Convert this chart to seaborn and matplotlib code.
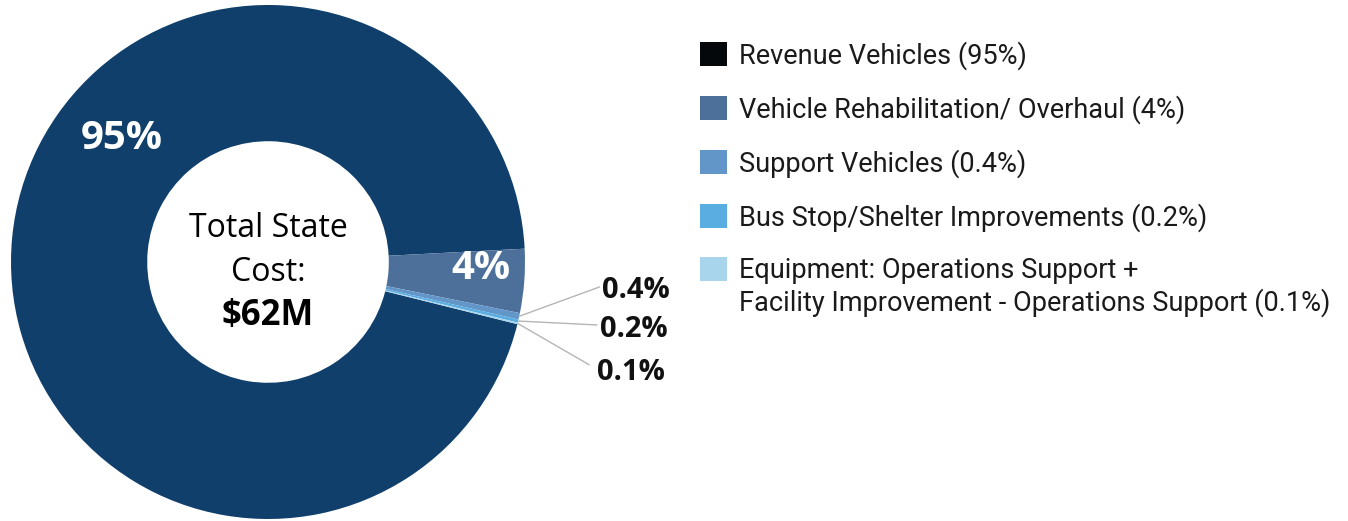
import numpy as np
import seaborn as sns
import matplotlib.pyplot as plt
from matplotlib.patches import Patch

# data
categories = ['Revenue Vehicles', 'Vehicle Rehabilitation/ Overhaul', 'Support Vehicles',
              'Bus Stop/Shelter Improvements',
              'Equipment: Operations Support +\nFacility Improvement - Operations Support']
shares = [95, 4, 0.4, 0.2, 0.1]
share_labels = ['95%', '4%', '0.4%', '0.2%', '0.1%']
slice_colors = ['#0f3f6a', '#4d709a', '#6296c8', '#5aade0', '#a8d4ec']
legend_colors = ['#05080a', '#4d709a', '#6296c8', '#5aade0', '#a8d4ec']

sns.set_theme(style='white')
plt.rcParams['font.family'] = ['Open Sans', 'DejaVu Sans']

fig = plt.figure(figsize=(13.48, 5.21), dpi=100)
# pie axes: centre ~ (268, 262) px, radius ~257 px
ax = fig.add_axes([(268 - 257) / 1348, (521 - 262 - 257) / 521, 514 / 1348, 514 / 521])

wedges, _ = ax.pie(shares, colors=slice_colors, startangle=-14, counterclock=False,
                   radius=1, wedgeprops=dict(width=0.53, edgecolor='none'))
ax.set_xlim(-1, 1)
ax.set_ylim(-1, 1)
ax.set_aspect('auto')
ax.axis('off')

# big labels inside the ring (95% sits up-left, 4% near the outer edge of its slice)
big_pos = {'95%': (140, 0.745), '4%': (None, 0.83)}
for w, lab in zip(wedges[:2], share_labels[:2]):
    a, r = big_pos[lab]
    if a is None:
        a = (w.theta1 + w.theta2) / 2 + 2.5
    ang = np.deg2rad(a)
    ax.text(r * np.cos(ang), r * np.sin(ang), lab, color='white', fontsize=29,
            fontweight='bold', ha='center', va='center')

# small slices with leader lines
label_pos = [(1.30, -0.11), (1.29, -0.262), (1.28, -0.43)]
line_end = [(1.29, -0.097), (1.28, -0.245), (1.25, -0.40)]
for w, lab, (tx, ty), (lx, ly) in zip(wedges[2:], share_labels[2:], label_pos, line_end):
    ang = np.deg2rad((w.theta1 + w.theta2) / 2)
    x0, y0 = np.cos(ang), np.sin(ang)
    ax.plot([x0, lx], [y0, ly], color='#b5b5b5', lw=1, clip_on=False)
    ax.text(tx, ty, lab, color='#111111', fontsize=21, fontweight='bold',
            ha='left', va='center')

# centre text
ax.text(0, 0.13, 'Total State', ha='center', va='center', fontsize=23, color='black')
ax.text(0, -0.04, 'Cost:', ha='center', va='center', fontsize=23, color='black')
ax.text(0, -0.21, '$62M', ha='center', va='center', fontsize=25, fontweight='bold', color='black')

handles = [Patch(facecolor=c, edgecolor='none') for c in legend_colors]
labels = [f'{c} ({l})' for c, l in zip(categories, share_labels)]
leg = fig.legend(handles, labels, loc='upper left', bbox_to_anchor=(700 / 1348, 1 - 41 / 521),
                 frameon=False, prop={'family': 'Roboto', 'size': 19.5},
                 handlelength=1.0, handleheight=1.0, handletextpad=0.45,
                 labelspacing=0.93, borderaxespad=0, borderpad=0)
for t in leg.get_texts():
    t.set_color('#1a1a1a')
# keep last square next to the first line of its two-line label
last = leg.legend_handles[-1]
last.set_y(last.get_y() + 14)

plt.savefig('out.png', dpi=100)
